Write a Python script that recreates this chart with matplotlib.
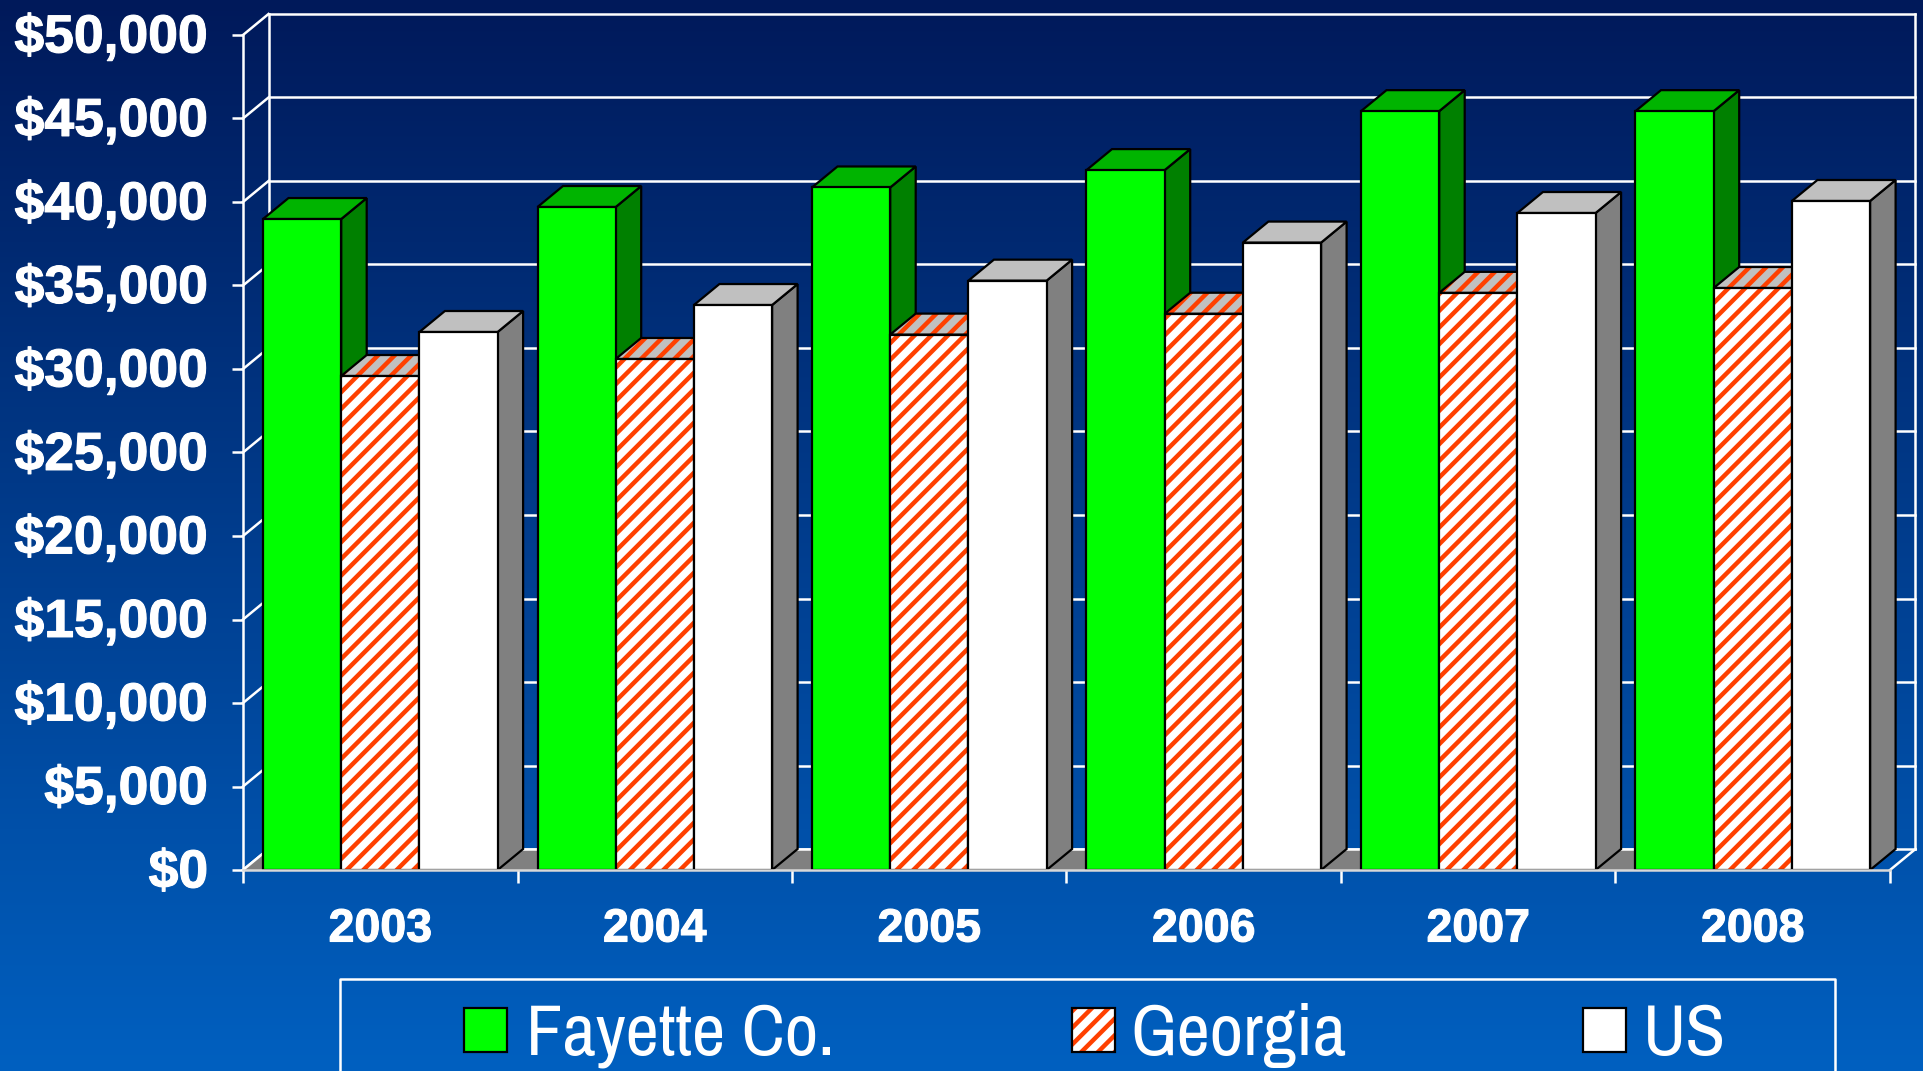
import numpy as np
import matplotlib
matplotlib.use('Agg')
import matplotlib.pyplot as plt
import matplotlib.patheffects as pe
from matplotlib.patches import Polygon, Rectangle
from matplotlib.transforms import ScaledTranslation

years = ['2003', '2004', '2005', '2006', '2007', '2008']
fayette = [38980, 39700, 40870, 41910, 45440, 45440]
georgia = [29580, 30600, 32060, 33310, 34560, 34850]
us = [32215, 33830, 35290, 37570, 39340, 40060]
y_ticks = list(range(0, 50001, 5000))
legend_names = ['Fayette Co.', 'Georgia', 'US']

W, H = 1923, 1071
ORANGE = '#ff4000'
LINE = 1.8
EDGE = 1.6
plt.rcParams['hatch.linewidth'] = 3.2
plt.rcParams['hatch.color'] = ORANGE

fig = plt.figure(figsize=(W / 100, H / 100), dpi=100)


def px_rect(x0, y0, x1, y1):
    # pixel box (y from top of the image) to figure fractions
    return [x0 / W, 1 - y1 / H, (x1 - x0) / W, (y1 - y0) / H]


# background gradient
bg = fig.add_axes([0, 0, 1, 1], zorder=0)
rows = np.linspace(0, 1, H)
grad = np.zeros((H, 1, 3))
grad[:, 0, 1] = (25 + (96 - 25) * rows) / 255
grad[:, 0, 2] = (90 + (192 - 90) * rows) / 255
bg.imshow(grad, aspect='auto', extent=[0, 1, 0, 1])
bg.axis('off')

ax = fig.add_axes(px_rect(243, 35, 1890, 870), zorder=1)
ax.patch.set_visible(False)
ax.set_xlim(0, 6)
ax.set_ylim(0, 50000)

# depth of the fake 3d, in data units
dx = 25.5 / 274.5
dy = 21 / 835 * 50000
offset = 20 / 274.5
bar_w = 78.2 / 274.5

# walls
for t in y_ticks:
    ax.plot([dx, 6 + dx], [t + dy, t + dy], color='white', lw=LINE, clip_on=False, zorder=1)
    ax.plot([0, dx], [t, t + dy], color='white', lw=LINE, clip_on=False, zorder=1)
ax.plot([dx, dx], [dy, 50000 + dy], color='white', lw=LINE, clip_on=False, zorder=1)
ax.plot([6 + dx, 6 + dx], [dy, 50000 + dy], color='white', lw=LINE, clip_on=False, zorder=1)
ax.plot([6, 6 + dx], [0, dy], color='white', lw=LINE, clip_on=False, zorder=1)

# gray floor, stops at the last bar
floor_end = 5 + offset + 3 * bar_w
ax.add_patch(Polygon([(0, 0), (floor_end, 0), (floor_end + dx, dy), (dx, dy)],
                     facecolor='#808080', edgecolor='none', zorder=1.5, clip_on=False))
ax.plot([0, dx], [0, dy], color='white', lw=LINE, clip_on=False, zorder=1.6)
ax.plot([dx, floor_end + dx], [dy, dy], color='white', lw=LINE, clip_on=False, zorder=1.6)


def draw_bar(x, h, front, top, side, z, hatch=None):
    side_pts = [(x + bar_w, 0), (x + bar_w + dx, dy), (x + bar_w + dx, h + dy), (x + bar_w, h)]
    top_pts = [(x, h), (x + dx, h + dy), (x + bar_w + dx, h + dy), (x + bar_w, h)]
    if hatch:
        ax.add_patch(Polygon(top_pts, facecolor=top, edgecolor=ORANGE, hatch=hatch, lw=0,
                             zorder=z, clip_on=False))
        ax.add_patch(Polygon(top_pts, fill=False, edgecolor='black', lw=EDGE, zorder=z, clip_on=False))
        ax.bar(x, h, bar_w, align='edge', facecolor=front, edgecolor=ORANGE, hatch=hatch, lw=0, zorder=z)
        ax.bar(x, h, bar_w, align='edge', fill=False, edgecolor='black', lw=EDGE, zorder=z)
    else:
        ax.add_patch(Polygon(side_pts, facecolor=side, edgecolor='black', lw=EDGE, zorder=z, clip_on=False))
        ax.add_patch(Polygon(top_pts, facecolor=top, edgecolor='black', lw=EDGE, zorder=z, clip_on=False))
        ax.bar(x, h, bar_w, align='edge', facecolor=front, edgecolor='black', lw=EDGE, zorder=z)


for i in range(len(years)):
    x0 = i + offset
    draw_bar(x0, fayette[i], '#00ff00', '#00b400', '#008000', 2 + i)
    draw_bar(x0 + bar_w, georgia[i], 'white', '#c0c0c0', None, 2.3 + i, hatch='//')
    draw_bar(x0 + 2 * bar_w, us[i], 'white', '#c0c0c0', '#808080', 2.6 + i)

# axes, ticks
for s in ['top', 'right']:
    ax.spines[s].set_visible(False)
ax.spines['left'].set_color('white')
ax.spines['left'].set_linewidth(LINE)
ax.spines['bottom'].set_color('#d8d8d8')
ax.spines['bottom'].set_linewidth(LINE)
ax.spines['left'].set_zorder(50)
ax.spines['bottom'].set_zorder(50)

bold = [pe.withStroke(linewidth=0.8, foreground='white')]
ax.set_yticks(y_ticks)
ax.set_yticklabels(['${:,}'.format(t) for t in y_ticks], fontsize=38.5, fontweight='bold',
                   family='Liberation Sans', color='white', path_effects=bold)
ax.tick_params(axis='y', length=8, width=LINE, color='white', pad=17)
# y labels sit a little above their ticks
nudge = ScaledTranslation(0, 1.5 / 72, fig.dpi_scale_trans)
for lab in ax.get_yticklabels():
    lab.set_transform(lab.get_transform() + nudge)
ax.set_xticks(range(7))
ax.set_xticklabels([])
ax.set_xticks(np.arange(6) + 0.5, minor=True)
ax.set_xticklabels(years, minor=True, fontsize=33.5, fontweight='bold',
                   family='Liberation Sans', color='white', path_effects=bold)
ax.tick_params(axis='x', which='major', length=9, width=LINE, color='white')
ax.tick_params(axis='x', which='minor', length=0, pad=27)

# legend box runs off the bottom of the image
leg = fig.add_axes([0, 0, 1, 1], zorder=2)
leg.set_xlim(0, W)
leg.set_ylim(H, 0)
leg.axis('off')
leg.plot([340, 340, 1835, 1835], [H + 5, 979, 979, H + 5], color='white', lw=LINE)
swatch_x = [464, 1072, 1583]
text_x = [526, 1130, 1643]
for n, name in enumerate(legend_names):
    if n == 1:
        leg.add_patch(Rectangle((swatch_x[n], 1008), 43, 44, facecolor='white', edgecolor=ORANGE,
                                hatch='//', lw=0, zorder=3))
        leg.add_patch(Rectangle((swatch_x[n], 1008), 43, 44, fill=False, edgecolor='black', lw=EDGE, zorder=3))
    else:
        leg.add_patch(Rectangle((swatch_x[n], 1008), 43, 44, facecolor='#00ff00' if n == 0 else 'white',
                                edgecolor='black', lw=EDGE, zorder=3))
    leg.text(text_x[n], 1055, name, fontsize=52.5, color='white', ha='left', va='baseline',
             family=['Archivo Narrow', 'Roboto', 'Liberation Sans'])

fig.savefig('out.png', dpi=100)
